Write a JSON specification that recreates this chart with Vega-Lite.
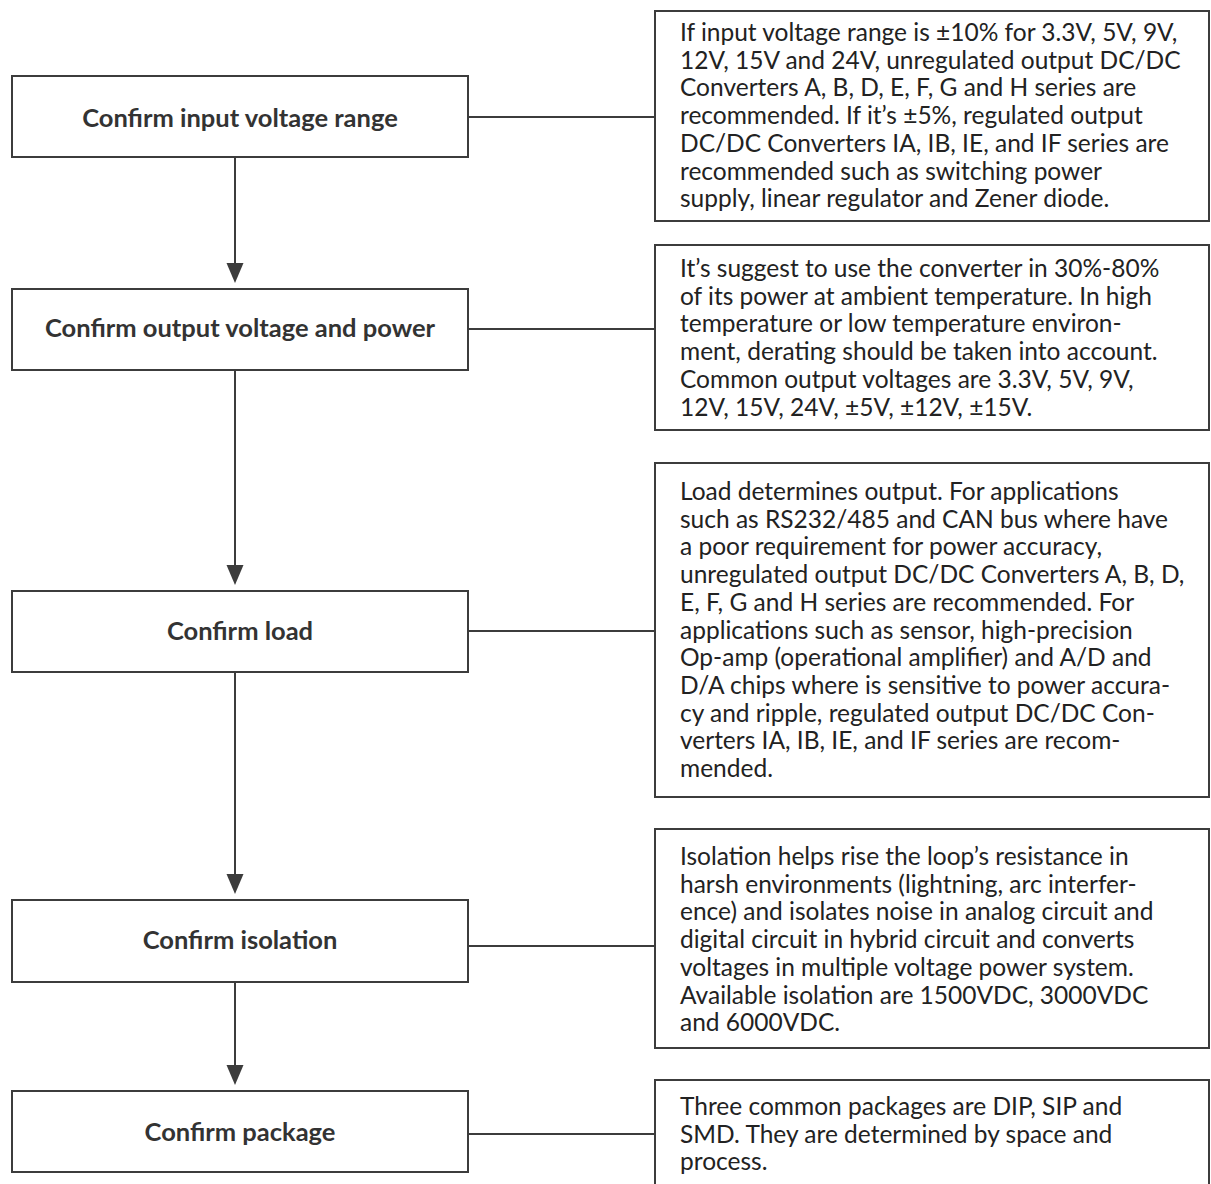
{
  "$schema": "https://vega.github.io/schema/vega-lite/v6.json",
  "width": 1211,
  "height": 1184,
  "padding": 0,
  "autosize": {"type": "none"},
  "background": "white",
  "config": {"view": {"stroke": null}},
  "datasets": {
    "steps": [
      {"step": "Confirm input voltage range", "x0": 12, "x1": 468, "y0": 76, "y1": 157, "cx": 240, "cy": 127},
      {"step": "Confirm output voltage and power", "x0": 12, "x1": 468, "y0": 289, "y1": 370, "cx": 240, "cy": 337},
      {"step": "Confirm load", "x0": 12, "x1": 468, "y0": 591, "y1": 672, "cx": 240, "cy": 640},
      {"step": "Confirm isolation", "x0": 12, "x1": 468, "y0": 900, "y1": 982, "cx": 240, "cy": 949},
      {"step": "Confirm package", "x0": 12, "x1": 468, "y0": 1091, "y1": 1172, "cx": 240, "cy": 1141}
    ],
    "notes": [
      {"note": "If input voltage range is ±10% for 3.3V, 5V, 9V,\n12V, 15V and 24V, unregulated output DC/DC\nConverters A, B, D, E, F, G and H series are\nrecommended. If it’s ±5%, regulated output\nDC/DC Converters IA, IB, IE, and IF series are\nrecommended such as switching power\nsupply, linear regulator and Zener diode.", "x0": 655, "x1": 1209, "y0": 11, "y1": 221, "tx": 680, "ty": 41},
      {"note": "It’s suggest to use the converter in 30%-80%\nof its power at ambient temperature. In high\ntemperature or low temperature environ-\nment, derating should be taken into account.\nCommon output voltages are 3.3V, 5V, 9V,\n12V, 15V, 24V, ±5V, ±12V, ±15V.", "x0": 655, "x1": 1209, "y0": 245, "y1": 430, "tx": 680, "ty": 277},
      {"note": "Load determines output. For applications\nsuch as RS232/485 and CAN bus where have\na poor requirement for power accuracy,\nunregulated output DC/DC Converters A, B, D,\nE, F, G and H series are recommended. For\napplications such as sensor, high-precision\nOp-amp (operational amplifier) and A/D and\nD/A chips where is sensitive to power accura-\ncy and ripple, regulated output DC/DC Con-\nverters IA, IB, IE, and IF series are recom-\nmended.", "x0": 655, "x1": 1209, "y0": 463, "y1": 797, "tx": 680, "ty": 500},
      {"note": "Isolation helps rise the loop’s resistance in\nharsh environments (lightning, arc interfer-\nence) and isolates noise in analog circuit and\ndigital circuit in hybrid circuit and converts\nvoltages in multiple voltage power system.\nAvailable isolation are 1500VDC, 3000VDC\nand 6000VDC.", "x0": 655, "x1": 1209, "y0": 829, "y1": 1048, "tx": 680, "ty": 865},
      {"note": "Three common packages are DIP, SIP and\nSMD. They are determined by space and\nprocess.", "x0": 655, "x1": 1209, "y0": 1080, "y1": 1200, "tx": 680, "ty": 1115}
    ],
    "links": [
      {"from": "Confirm input voltage range", "to": "note 1", "x0": 468, "x1": 655, "y0": 117, "y1": 117},
      {"from": "Confirm output voltage and power", "to": "note 2", "x0": 468, "x1": 655, "y0": 329, "y1": 329},
      {"from": "Confirm load", "to": "note 3", "x0": 468, "x1": 655, "y0": 631, "y1": 631},
      {"from": "Confirm isolation", "to": "note 4", "x0": 468, "x1": 655, "y0": 946, "y1": 946},
      {"from": "Confirm package", "to": "note 5", "x0": 468, "x1": 655, "y0": 1134, "y1": 1134},
      {"from": "Confirm input voltage range", "to": "Confirm output voltage and power", "x0": 235, "x1": 235, "y0": 157, "y1": 272},
      {"from": "Confirm output voltage and power", "to": "Confirm load", "x0": 235, "x1": 235, "y0": 370, "y1": 574},
      {"from": "Confirm load", "to": "Confirm isolation", "x0": 235, "x1": 235, "y0": 672, "y1": 883},
      {"from": "Confirm isolation", "to": "Confirm package", "x0": 235, "x1": 235, "y0": 982, "y1": 1074}
    ],
    "arrows": [
      {"to": "Confirm output voltage and power", "x": 235, "y": 273},
      {"to": "Confirm load", "x": 235, "y": 575},
      {"to": "Confirm isolation", "x": 235, "y": 884},
      {"to": "Confirm package", "x": 235, "y": 1075}
    ]
  },
  "layer": [
    {
      "data": {"name": "links"},
      "mark": {"type": "rule", "color": "#3c3c3c", "strokeWidth": 2},
      "encoding": {
        "x": {"field": "x0", "type": "quantitative", "scale": {"domain": [0, 1211], "nice": false, "zero": false}, "axis": null},
        "x2": {"field": "x1"},
        "y": {"field": "y0", "type": "quantitative", "scale": {"domain": [0, 1184], "nice": false, "zero": false, "reverse": true}, "axis": null},
        "y2": {"field": "y1"}
      }
    },
    {
      "data": {"name": "arrows"},
      "mark": {"type": "point", "shape": "M-0.85,-1L0.85,-1L0,1Z", "filled": true, "color": "#3c3c3c", "opacity": 1, "size": 400, "strokeWidth": 0},
      "encoding": {
        "x": {"field": "x", "type": "quantitative"},
        "y": {"field": "y", "type": "quantitative"}
      }
    },
    {
      "data": {"name": "steps"},
      "mark": {"type": "rect", "fill": "white", "stroke": "#3c3c3c", "strokeWidth": 2},
      "encoding": {
        "x": {"field": "x0", "type": "quantitative"},
        "x2": {"field": "x1"},
        "y": {"field": "y0", "type": "quantitative"},
        "y2": {"field": "y1"}
      }
    },
    {
      "data": {"name": "notes"},
      "mark": {"type": "rect", "fill": "white", "stroke": "#3c3c3c", "strokeWidth": 2},
      "encoding": {
        "x": {"field": "x0", "type": "quantitative"},
        "x2": {"field": "x1"},
        "y": {"field": "y0", "type": "quantitative"},
        "y2": {"field": "y1"}
      }
    },
    {
      "data": {"name": "steps"},
      "mark": {"type": "text", "font": "Lato", "fontWeight": "bold", "fontSize": 25.5, "color": "#333333", "align": "center", "baseline": "alphabetic"},
      "encoding": {
        "x": {"field": "cx", "type": "quantitative"},
        "y": {"field": "cy", "type": "quantitative"},
        "text": {"field": "step"}
      }
    },
    {
      "data": {"name": "notes"},
      "mark": {"type": "text", "font": "Lato", "fontSize": 24.5, "lineHeight": 27.7, "lineBreak": "\n", "color": "#222222", "align": "left", "baseline": "alphabetic"},
      "encoding": {
        "x": {"field": "tx", "type": "quantitative"},
        "y": {"field": "ty", "type": "quantitative"},
        "text": {"field": "note"}
      }
    }
  ]
}
